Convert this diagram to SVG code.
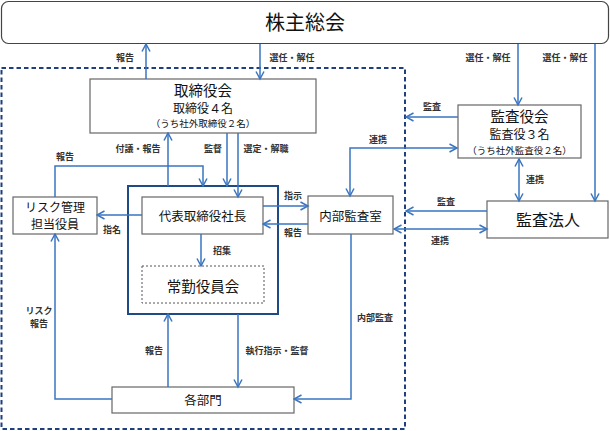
<svg xmlns="http://www.w3.org/2000/svg" width="610" height="431" viewBox="0 0 610 431">
<style>
text{font-family:"Noto Sans CJK JP","Noto Sans",sans-serif;text-anchor:middle;fill:#111}
.box{fill:#fff;stroke:#666;stroke-width:1.2}
.lbl{font-size:9px;fill:#333;font-weight:bold}
.ln{fill:none;stroke:#3a75c0;stroke-width:1.5}
</style>
<defs>
<marker id="ah" markerUnits="userSpaceOnUse" viewBox="-1 -5 10 10" refX="7.5" refY="0" markerWidth="10" markerHeight="10" orient="auto-start-reverse">
<path d="M0,-4 L7.5,0 L0,4" fill="none" stroke="#3a75c0" stroke-width="1.5"/>
</marker>
</defs>
<rect width="610" height="431" fill="#fff"/>
<rect x="1.5" y="68" width="403.5" height="361" fill="none" stroke="#1f3f7f" stroke-width="2" stroke-dasharray="4.5 3"/>
<g id="shareholders">
<rect x="1.5" y="1.5" width="607" height="42" rx="7" fill="#fff" stroke="#444" stroke-width="1.2"/>
<text x="305" y="30" font-size="20">株主総会</text>
</g>
<g id="board">
<rect class="box" x="90" y="79" width="226" height="54"/>
<text x="203" y="96" font-size="14.5">取締役会</text>
<text x="203" y="112.5" font-size="12">取締役４名</text>
<text x="203" y="127" font-size="9.5">（うち社外取締役２名）</text>
</g>
<g id="auditboard">
<rect class="box" x="458" y="105" width="123" height="53"/>
<text x="519.5" y="122" font-size="14.5">監査役会</text>
<text x="519.5" y="138.5" font-size="12">監査役３名</text>
<text x="519.5" y="153.5" font-size="9.5">（うち社外監査役２名）</text>
</g>
<g id="auditfirm">
<rect class="box" x="487" y="201" width="121" height="37"/>
<text x="548" y="225.5" font-size="16">監査法人</text>
</g>
<g id="internalaudit">
<rect class="box" x="308" y="196" width="85" height="38"/>
<text x="350.5" y="220.5" font-size="12.5">内部監査室</text>
</g>
<g id="exec">
<rect x="128" y="186" width="150" height="128" fill="none" stroke="#1e4a86" stroke-width="2"/>
</g>
<g id="president">
<rect class="box" x="142" y="197" width="121" height="37"/>
<text x="202.5" y="220.5" font-size="12.5">代表取締役社長</text>
</g>
<g id="committee">
<rect x="142" y="266" width="122" height="37" fill="#fff" stroke="#555" stroke-width="1" stroke-dasharray="2 2"/>
<text x="203" y="292" font-size="14.5">常勤役員会</text>
</g>
<g id="risk">
<rect class="box" x="13" y="197" width="84" height="37"/>
<text x="55" y="211.5" font-size="12">リスク管理</text>
<text x="55" y="229" font-size="12">担当役員</text>
</g>
<g id="departments">
<rect class="box" x="112" y="387" width="182" height="26"/>
<text x="203" y="404.5" font-size="12.5">各部門</text>
</g>
<g id="connectors">
<line class="ln" x1="146" y1="79" x2="146" y2="44" marker-end="url(#ah)"/>
<line class="ln" x1="260" y1="44" x2="260" y2="79" marker-end="url(#ah)"/>
<line class="ln" x1="518" y1="44" x2="518" y2="105" marker-end="url(#ah)"/>
<line class="ln" x1="595" y1="44" x2="595" y2="201" marker-end="url(#ah)"/>
<line class="ln" x1="458" y1="117" x2="406" y2="117" marker-end="url(#ah)"/>
<polyline class="ln" points="350,196 350,148 457,148" marker-start="url(#ah)" marker-end="url(#ah)"/>
<line class="ln" x1="519" y1="159" x2="519" y2="201" marker-start="url(#ah)" marker-end="url(#ah)"/>
<line class="ln" x1="487" y1="211" x2="406" y2="211" marker-end="url(#ah)"/>
<line class="ln" x1="394" y1="229" x2="487" y2="229" marker-start="url(#ah)" marker-end="url(#ah)"/>
<line class="ln" x1="263" y1="206" x2="308" y2="206" marker-end="url(#ah)"/>
<line class="ln" x1="308" y1="224" x2="263" y2="224" marker-end="url(#ah)"/>
<line class="ln" x1="142" y1="215" x2="97" y2="215" marker-end="url(#ah)"/>
<line class="ln" x1="201" y1="234" x2="201" y2="266" marker-end="url(#ah)"/>
<polyline class="ln" points="55,197 55,166 203,166 203,186" marker-end="url(#ah)"/>
<line class="ln" x1="168" y1="186" x2="168" y2="133" marker-end="url(#ah)"/>
<line class="ln" x1="227" y1="133" x2="227" y2="186" marker-end="url(#ah)"/>
<line class="ln" x1="238" y1="133" x2="238" y2="197" marker-end="url(#ah)"/>
<line class="ln" x1="168" y1="387" x2="168" y2="314" marker-end="url(#ah)"/>
<line class="ln" x1="238" y1="314" x2="238" y2="387" marker-end="url(#ah)"/>
<polyline class="ln" points="112,399 55,399 55,234" marker-end="url(#ah)"/>
<polyline class="ln" points="351,234 351,399 294,399" marker-end="url(#ah)"/>
</g>
<g id="labels">
<text class="lbl" x="125" y="60.5">報告</text>
<text class="lbl" x="292" y="60.5">選任・解任</text>
<text class="lbl" x="488" y="60.5">選任・解任</text>
<text class="lbl" x="565" y="60.5">選任・解任</text>
<text class="lbl" x="432" y="110">監査</text>
<text class="lbl" x="378" y="143">連携</text>
<text class="lbl" x="535" y="183">連携</text>
<text class="lbl" x="138" y="152">付議・報告</text>
<text class="lbl" x="213" y="152">監督</text>
<text class="lbl" x="266" y="152">選定・解職</text>
<text class="lbl" x="65" y="160">報告</text>
<text class="lbl" x="293" y="199">指示</text>
<text class="lbl" x="293" y="236">報告</text>
<text class="lbl" x="112" y="233">指名</text>
<text class="lbl" x="222" y="254">招集</text>
<text class="lbl" x="446" y="205">監査</text>
<text class="lbl" x="440" y="244">連携</text>
<text class="lbl" x="39" y="314">リスク</text>
<text class="lbl" x="39" y="326.5">報告</text>
<text class="lbl" x="154" y="354">報告</text>
<text class="lbl" x="277" y="354">執行指示・監督</text>
<text class="lbl" x="375" y="321">内部監査</text>
</g>
</svg>
